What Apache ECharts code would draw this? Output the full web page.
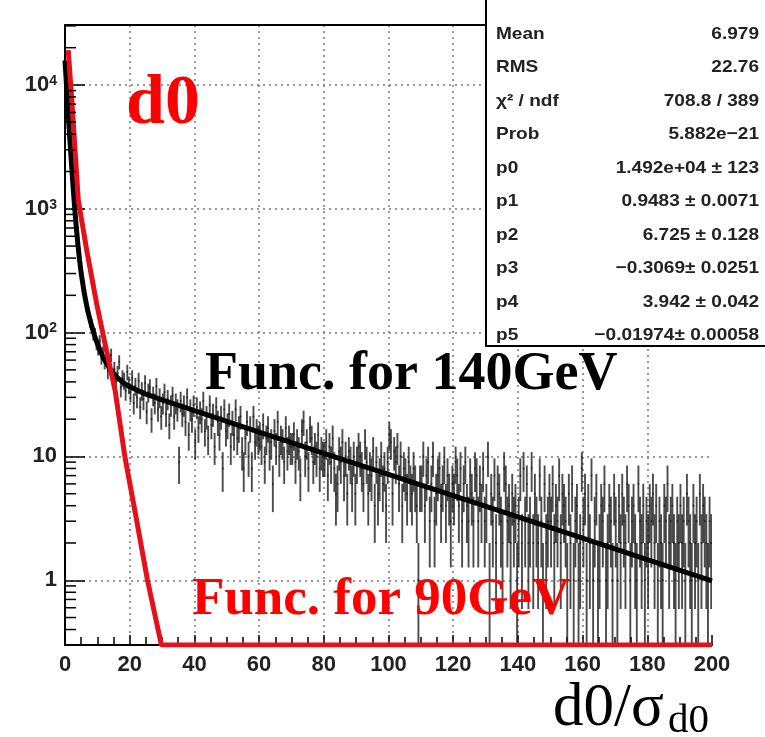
<!DOCTYPE html>
<html>
<head>
<meta charset="utf-8">
<script src="https://cdn.jsdelivr.net/npm/echarts@6/dist/echarts.min.js"></script>
<style>
  html, body { margin: 0; padding: 0; background: #fff; }
  #main { width: 765px; height: 737px; }
</style>
</head>
<body>
<div id="main"></div>
<script>
// Histogram of d0/sigma_d0: 400 bins of width 0.5 from 0 to 200 (entries per bin)
const binStart = 0;
const binWidth = 0.5;
const binCounts = [
  12180, 7560, 4570, 2930, 1830, 1250, 826, 612, 431, 352, 268, 219, 195, 158, 147, 121, 118, 96, 99, 81,
  74, 86, 63, 69, 58, 75, 49, 57, 66, 44, 51, 39, 47, 58, 36, 43, 41, 34, 48, 38,
  33, 43, 27, 37, 30, 41, 25, 34, 29, 39, 23, 33, 36, 20, 31, 27, 37, 24, 30, 21,
  27, 33, 22, 29, 18, 26, 31, 21, 27, 24, 9, 28, 22, 26, 19, 30, 15, 24, 20, 26,
  13, 25, 17, 23, 20, 28, 16, 21, 14, 26, 18, 22, 12, 25, 19, 15, 21, 8, 24, 16,
  18, 22, 12, 19, 15, 24, 14, 17, 21, 11, 8, 14, 19, 10, 17, 8, 21, 13, 16, 14,
  15, 12, 18, 9, 14, 17, 11, 13, 6, 16, 12, 19, 10, 14, 13, 9, 17, 11, 14, 12,
  12, 15, 9, 13, 11, 7, 16, 19, 10, 13, 8, 17, 14, 9, 12, 10, 15, 8, 11, 10,
  10, 13, 7, 12, 9, 14, 8, 5, 6, 11, 9, 13, 7, 10, 5, 11, 9, 6, 10, 5,
  9, 12, 10, 8, 6, 13, 9, 5, 8, 7, 11, 4, 9, 5, 7, 10, 6, 8, 4, 9,
  15, 13, 5, 11, 9, 12, 6, 10, 4, 8, 7, 5, 9, 6, 5, 8, 6, 4, 1, 6,
  6, 10, 4, 7, 9, 3, 6, 10, 3, 5, 7, 8, 4, 6, 9, 4, 7, 5, 3, 6,
  5, 9, 7, 4, 8, 3, 6, 9, 4, 3, 7, 5, 3, 8, 7, 3, 6, 4, 8, 3,
  4, 10, 1, 5, 3, 7, 2, 6, 5, 3, 2, 8, 6, 3, 4, 2, 5, 3, 4, 1,
  3, 7, 2, 8, 3, 6, 2, 3, 8, 2, 5, 3, 2, 7, 3, 1, 6, 2, 3, 5,
  3, 6, 2, 4, 3, 7, 2, 5, 4, 3, 1, 5, 2, 6, 1, 3, 4, 1, 2, 8,
  3, 5, 1, 4, 2, 7, 1, 3, 5, 1, 2, 4, 3, 6, 1, 2, 4, 3, 1, 5,
  3, 1, 4, 2, 5, 3, 2, 6, 4, 1, 3, 4, 2, 1, 6, 3, 2, 4, 1, 3,
  2, 4, 3, 5, 2, 4, 1, 3, 2, 1, 4, 3, 6, 2, 3, 4, 2, 1, 3, 2,
  4, 2, 3, 1, 5, 3, 2, 1, 4, 2, 3, 1, 5, 2, 4, 3, 2, 1, 3, 2
];

// Fitted function for 140 GeV (sampled points)
const fit140X = [0, 0.5, 1, 1.5, 2, 2.5, 3, 3.5, 4, 4.5, 5, 6, 7, 8, 9, 10, 11, 12, 14, 16, 18, 20, 25, 30, 40, 50, 60, 70, 80, 90, 100, 120, 140, 160, 180, 200];
const fit140Y = [15800, 9570, 5860, 3640, 2310, 1505, 1010, 705, 512, 386, 303, 205, 151, 119, 97, 81.4, 70, 61.5, 50.4, 43.7, 39.4, 36.5, 31.8, 28.6, 23.4, 19.2, 15.75, 12.9, 10.6, 8.7, 7.15, 4.82, 3.25, 2.19, 1.47, 0.99];

// Function for 90 GeV (runs along the lower edge once it leaves the range)
const fit90X = [1.0, 2.1, 4.1, 6.7, 9.8, 12.9, 15.5, 18.5, 22, 25.5, 29.8, 200];
const fit90Y = [19100, 7570, 1180, 465, 170, 70, 34, 10, 3.2, 1, 0.3, 0.3];

// Axis ranges and ticks
const xMin = 0, xMax = 200, xStep = 20;
const yMin = 0.3, yMax = 30500;
const yMinorTicks = [0.4, 0.5, 0.6, 0.7, 0.8, 0.9,
  2, 3, 4, 5, 6, 7, 8, 9,
  20, 30, 40, 50, 60, 70, 80, 90,
  200, 300, 400, 500, 600, 700, 800, 900,
  2000, 3000, 4000, 5000, 6000, 7000, 8000, 9000,
  20000, 30000];

// Fit statistics box
const statNames = ['Mean', 'RMS', 'χ² / ndf', 'Prob', 'p0', 'p1', 'p2', 'p3', 'p4', 'p5'];
const statValues = ['6.979', '22.76', '708.8 / 389', '5.882e−21', '1.492e+04 ± 123', '0.9483 ± 0.0071',
  '6.725 ± 0.128', '−0.3069± 0.0251', '3.942 ± 0.042', '−0.01974± 0.00058'];

const histData = binCounts.map((c, i) => [binStart + (i + 0.5) * binWidth, c]);
const fit140Data = fit140X.map((x, i) => [x, fit140Y[i]]);
const fit90Data = fit90X.map((x, i) => [x, fit90Y[i]]);

const sansFont = '"Liberation Sans", Arial, Helvetica, sans-serif';
const serifFont = '"Liberation Serif", "Times New Roman", serif';

function yLabel(v) {
  const k = Math.round(Math.log10(v));
  if (Math.abs(Math.log10(v) - k) > 1e-6) return '';
  if (k === 0) return '{b|1}';
  if (k === 1) return '{b|10}';
  return '{b|10}{s|' + k + '}';
}

const chart = echarts.init(document.getElementById('main'), null, { renderer: 'canvas' });

const statGraphics = [];
statNames.forEach((name, i) => {
  const y = 34 + 33.5 * i;
  statGraphics.push({
    type: 'text', x: 496, y: y, z: 101, scaleX: 1.12, originX: 0, originY: 0,
    style: { text: name, fontFamily: sansFont, fontSize: 17, fontWeight: 'bold', fill: '#222', align: 'left', verticalAlign: 'middle' }
  });
  statGraphics.push({
    type: 'text', x: 759, y: y, z: 101, scaleX: 1.12, originX: 0, originY: 0,
    style: { text: statValues[i], fontFamily: sansFont, fontSize: 17, fontWeight: 'bold', fill: '#222', align: 'right', verticalAlign: 'middle' }
  });
});

const frameLine = { show: true, lineStyle: { color: '#000', width: 2 } };
const dotted = { type: [2, 4], color: '#777', width: 1.5 };

const option = {
  animation: false,
  backgroundColor: '#ffffff',
  grid: {
    left: 65, top: 25, width: 647, height: 620,
    show: false,
    outerBoundsMode: 'none'
  },
  xAxis: [{
    type: 'value', min: xMin, max: xMax, interval: xStep,
    axisLine: frameLine,
    axisTick: { inside: true, length: 10, lineStyle: { color: '#000', width: 1.5 } },
    minorTick: { show: true, splitNumber: 4, length: 8, lineStyle: { color: '#000', width: 1.5 } },
    axisLabel: { fontFamily: sansFont, fontSize: 22, fontWeight: 'bold', color: '#222', margin: 9 },
    splitLine: { show: true, showMinLine: false, showMaxLine: false, lineStyle: dotted }
  }, {
    // top edge of the frame
    type: 'value', position: 'top', min: xMin, max: xMax, interval: xStep,
    axisLine: frameLine, axisTick: { show: false }, axisLabel: { show: false }, splitLine: { show: false }
  }],
  yAxis: [{
    type: 'log', logBase: 10, min: yMin, max: yMax,
    axisLine: frameLine,
    axisTick: { inside: true, length: 20, lineStyle: { color: '#000', width: 1.5 } },
    axisLabel: {
      margin: 8, showMinLabel: false, showMaxLabel: false,
      formatter: yLabel,
      rich: {
        b: { fontFamily: sansFont, fontSize: 22, fontWeight: 'bold', color: '#222', verticalAlign: 'bottom' },
        s: { fontFamily: sansFont, fontSize: 14, fontWeight: 'bold', color: '#222', verticalAlign: 'top' }
      }
    },
    splitLine: { show: true, showMinLine: false, showMaxLine: false, lineStyle: dotted }
  }, {
    // right edge of the frame
    type: 'log', logBase: 10, position: 'right', min: yMin, max: yMax,
    axisLine: frameLine, axisTick: { show: false }, axisLabel: { show: false }, splitLine: { show: false }
  }],
  series: [
    {
      // histogram: error bar plus a short bar across each bin
      type: 'custom', name: 'hist', z: 2, clip: true,
      data: histData,
      encode: { x: 0, y: 1 },
      renderItem: function (params, api) {
        const x = api.value(0), n = api.value(1);
        if (!(n > 0)) return null;
        const e = Math.sqrt(n);
        const lo = Math.max(n - e, yMin), hi = n + e;
        const pLo = api.coord([x, lo]), pHi = api.coord([x, hi]);
        const pL = api.coord([x - binWidth / 2, n]), pR = api.coord([x + binWidth / 2, n]);
        const st = { stroke: '#1a1a1a', lineWidth: 1.9, opacity: 0.78 };
        return {
          type: 'group',
          children: [
            { type: 'line', shape: { x1: pLo[0], y1: pLo[1], x2: pHi[0], y2: pHi[1] }, style: st },
            { type: 'line', shape: { x1: pL[0], y1: pL[1], x2: pR[0], y2: pR[1] }, style: st }
          ]
        };
      }
    },
    {
      // minor ticks of the logarithmic axis
      type: 'custom', name: 'yMinor', z: 5, clip: false, silent: true,
      data: yMinorTicks.map(v => [xMin, v]),
      encode: { x: 0, y: 1 },
      renderItem: function (params, api) {
        const p = api.coord([api.value(0), api.value(1)]);
        return { type: 'line', shape: { x1: p[0], y1: p[1], x2: p[0] + 11, y2: p[1] }, style: { stroke: '#000', lineWidth: 1.5 } };
      }
    },
    {
      type: 'line', name: 'Func. for 140GeV', z: 3, data: fit140Data,
      showSymbol: false, smooth: false,
      lineStyle: { color: '#000', width: 5 }
    },
    {
      type: 'line', name: 'Func. for 90GeV', z: 4, data: fit90Data,
      showSymbol: false, smooth: false,
      lineStyle: { color: '#e4101a', width: 5 }
    }
  ],
  graphic: [
    {
      type: 'text', x: 126, y: 105, z: 50,
      style: { text: 'd0', fontFamily: serifFont, fontSize: 70, fontWeight: 'bold', fill: '#ff0000', align: 'left', verticalAlign: 'middle' }
    },
    {
      type: 'text', x: 205, y: 375, z: 50,
      style: { text: 'Func. for 140GeV', fontFamily: serifFont, fontSize: 54, fontWeight: 'bold', fill: '#000', align: 'left', verticalAlign: 'middle' }
    },
    {
      type: 'text', x: 192, y: 600, z: 50,
      style: { text: 'Func. for 90GeV', fontFamily: serifFont, fontSize: 53, fontWeight: 'bold', fill: '#ff0000', align: 'left', verticalAlign: 'middle' }
    },
    {
      type: 'text', x: 553, y: 709, z: 50,
      style: { text: 'd0/σ', fontFamily: serifFont, fontSize: 61, fill: '#000', align: 'left', verticalAlign: 'middle' }
    },
    {
      type: 'text', x: 668, y: 721, z: 50,
      style: { text: 'd0', fontFamily: serifFont, fontSize: 41, fill: '#000', align: 'left', verticalAlign: 'middle' }
    },
    {
      type: 'rect', z: 100,
      shape: { x: 486, y: -4, width: 290, height: 350 },
      style: { fill: '#fff', stroke: '#000', lineWidth: 2 }
    }
  ].concat(statGraphics)
};

chart.setOption(option);
</script>
</body>
</html>
